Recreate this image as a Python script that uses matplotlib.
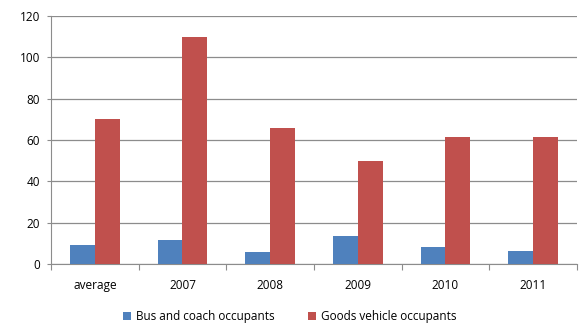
import matplotlib
matplotlib.use("Agg")
import matplotlib.pyplot as plt
import numpy as np

categories = ["average", "2007", "2008", "2009", "2010", "2011"]
bus = [9.2, 11.6, 5.8, 13.7, 8.4, 6.4]
goods = [70, 110, 66, 50, 61.6, 61.6]

plt.rcParams['font.family'] = ['Open Sans', 'DejaVu Sans']

fig = plt.figure(figsize=(5.79, 3.24), dpi=100)
ax = fig.add_axes([51/579, 1 - 264/324, (577-51)/579, (264-16)/324])

x = np.arange(len(categories))
w = 0.285
ax.bar(x - w/2, bus, w, color="#4F81BD", label="Bus and coach occupants", zorder=3)
ax.bar(x + w/2, goods, w, color="#C0504D", label="Goods vehicle occupants", zorder=3)

ax.set_xlim(-0.5, len(categories) - 0.5)
ax.set_ylim(0, 120)
ax.set_yticks(range(0, 121, 20))
ax.yaxis.grid(True, color="#8c8c8c", linewidth=0.9, zorder=0)
for s in ["top", "right"]:
    ax.spines[s].set_visible(False)
ax.spines["left"].set_color("#8c8c8c")
ax.spines["bottom"].set_color("#8c8c8c")

ax.set_xticks(np.arange(-0.5, len(categories), 1), minor=False)
ax.set_xticklabels([])
ax.set_xticks(x, minor=True)
ax.set_xticklabels(categories, minor=True)
ax.tick_params(axis="x", which="major", length=4, color="#8c8c8c")
ax.tick_params(axis="x", which="minor", length=0, pad=11, labelsize=8.5)
ax.tick_params(axis="y", length=3, color="#8c8c8c", labelsize=8.5, pad=5)

fig.legend(loc="center", bbox_to_anchor=(0.5, 0.022), ncol=2, frameon=False,
           fontsize=8.5, handlelength=0.7, handleheight=0.7, columnspacing=2.8,
           handletextpad=0.4, borderpad=0, borderaxespad=0)

fig.savefig("out.png", dpi=100)
